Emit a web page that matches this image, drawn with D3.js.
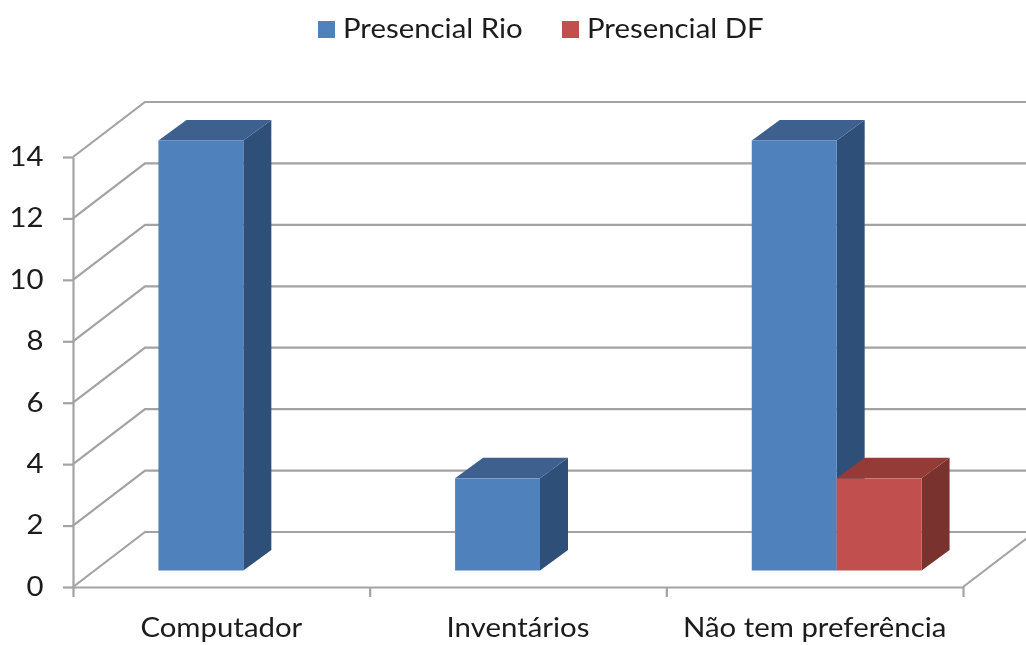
<!DOCTYPE html>
<html>
<head>
<meta charset="utf-8">
<script src="https://cdn.jsdelivr.net/npm/d3@7"></script>
<style>
  html, body { margin: 0; background: #fff; }
  svg { display: block; }
  text { font-family: Lato, "Open Sans", sans-serif; fill: #1a1a1a; }
</style>
</head>
<body>
<div id="chart"></div>
<script>
const categories = ["Computador", "Inventários", "Não tem preferência"];
const seriesNames = ["Presencial Rio", "Presencial DF"];
const presencialRio = [14, 3, 14];
const presencialDF = [0, 0, 3];
const yTicks = [0, 2, 4, 6, 8, 10, 12, 14];
const seriesValues = [presencialRio, presencialDF];

const width = 1026;
const height = 645;
const marginLeft = 73;
const marginRight = 63;
const floorY = 587;
const topY = 157;
const fontSize = 26;
const textStretch = 1.13; // the source picture is stretched sideways

// 3d offsets: back wall, bar position on the floor, bar depth
const wall = { dx: 72, dy: -55 };
const barShift = { dx: 22, dy: -16.5 };
const depth = { dx: 28, dy: -20.5 };

const colors = [
  { front: "#4f81bd", top: "#3c618f", side: "#2f5078" },
  { front: "#c0504d", top: "#943a38", side: "#7a302e" },
];
const gridColor = "#a3a3a3";

const x = d3.scaleBand()
  .domain(categories)
  .range([marginLeft, width - marginRight]);

const xSeries = d3.scaleBand()
  .domain(seriesNames)
  .range([0, x.bandwidth()])
  .paddingOuter(0.747)
  .paddingInner(0);

const y = d3.scaleLinear()
  .domain([0, 14])
  .range([floorY, topY]);

const svg = d3.select("#chart").append("svg")
  .attr("width", width)
  .attr("height", height)
  .attr("viewBox", [0, 0, width, height]);

const defs = svg.append("defs");
defs.append("filter").attr("id", "soft")
  .append("feGaussianBlur").attr("stdDeviation", 0.6);

const root = svg.append("g").attr("filter", "url(#soft)");

// walls
const grid = root.append("g")
  .attr("fill", "none")
  .attr("stroke", gridColor)
  .attr("stroke-width", 2.2);

grid.selectAll("path")
  .data(yTicks)
  .join("path")
    .attr("d", d => `M${marginLeft},${y(d)}L${marginLeft + wall.dx},${y(d) + wall.dy}L${width},${y(d) + wall.dy}`);

// floor, right edge
grid.append("path")
  .attr("d", `M${width - marginRight},${floorY}L${width - marginRight + wall.dx},${floorY + wall.dy}`);

// axes
const axisY = root.append("g")
  .attr("transform", `translate(${marginLeft},0)`)
  .call(d3.axisLeft(y).tickValues(yTicks).tickSize(10).tickPadding(21).tickSizeOuter(0));

const xTickValues = d3.range(categories.length + 1);
const xTick = d3.scaleLinear().domain([0, categories.length]).range(x.range());

const axisX = root.append("g")
  .attr("transform", `translate(0,${floorY})`)
  .call(d3.axisBottom(xTick).tickValues(xTickValues).tickFormat("").tickSize(10).tickSizeOuter(0));

root.append("g")
  .attr("text-anchor", "middle")
  .selectAll("text")
  .data(categories)
  .join("text")
    .attr("transform", d => `translate(${x(d) + x.bandwidth() / 2},637) scale(${textStretch},1)`)
    .attr("font-size", fontSize)
    .text(d => d);

[axisY, axisX].forEach(a => {
  a.selectAll(".domain, line").attr("stroke", gridColor).attr("stroke-width", 2.2);
  a.select(".domain").attr("fill", "none");
});
axisY.selectAll("text")
  .attr("font-size", fontSize)
  .attr("fill", "#1a1a1a")
  .attr("x", 0)
  .attr("transform", `translate(-29.5,0) scale(${textStretch},1)`);

// bars, back to front
const bars = seriesNames.flatMap((name, s) =>
  categories.map((cat, c) => ({ name, cat, s, value: seriesValues[s][c] }))
).filter(d => d.value > 0);

const barX = d => x(d.cat) + xSeries(d.name) + barShift.dx;
const barTop = d => y(d.value) + barShift.dy;
const barBase = () => y(0) + barShift.dy;

const bar = root.append("g")
  .selectAll("g")
  .data(bars)
  .join("g");

bar.append("path")
  .attr("fill", d => colors[d.s].side)
  .attr("d", d => {
    const r = barX(d) + xSeries.bandwidth();
    return `M${r},${barTop(d)}L${r + depth.dx},${barTop(d) + depth.dy}L${r + depth.dx},${barBase() + depth.dy}L${r},${barBase()}Z`;
  });

bar.append("path")
  .attr("fill", d => colors[d.s].top)
  .attr("d", d => {
    const l = barX(d), r = l + xSeries.bandwidth();
    return `M${l},${barTop(d)}L${l + depth.dx},${barTop(d) + depth.dy}L${r + depth.dx},${barTop(d) + depth.dy}L${r},${barTop(d)}Z`;
  });

bar.append("rect")
  .attr("fill", d => colors[d.s].front)
  .attr("x", barX)
  .attr("y", barTop)
  .attr("width", xSeries.bandwidth())
  .attr("height", d => barBase() - barTop(d));

// legend
const legend = root.append("g")
  .selectAll("g")
  .data(seriesNames)
  .join("g")
    .attr("transform", (d, i) => `translate(${[318, 562][i]},21)`);

legend.append("rect")
  .attr("width", 17)
  .attr("height", 17)
  .attr("fill", (d, i) => colors[i].front);

legend.append("text")
  .attr("transform", `translate(25,17) scale(${textStretch},1)`)
  .attr("font-size", fontSize)
  .text(d => d);
</script>
</body>
</html>
